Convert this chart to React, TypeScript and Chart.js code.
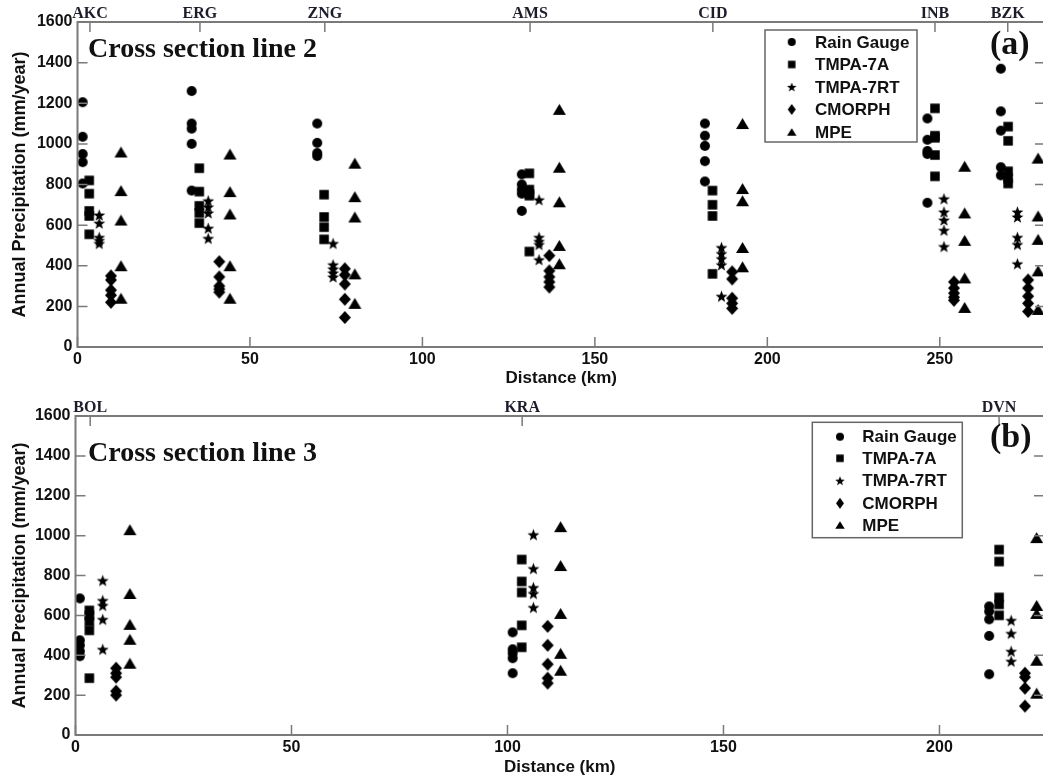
import React, { useEffect, useRef } from 'react';
import { Chart, registerables } from 'chart.js';

Chart.register(...registerables);

// ---------------- shared ----------------
const seriesLabels = ['Rain Gauge', 'TMPA-7A', 'TMPA-7RT', 'CMORPH', 'MPE'];
const yTickValues = [0, 200, 400, 600, 800, 1000, 1200, 1400, 1600];

// ---------------- cross section line 2 (panel a) ----------------
const line2Stations = ['AKC', 'ERG', 'ZNG', 'AMS', 'CID', 'INB', 'BZK'];
const line2StationKm = [3.6, 35.5, 71.7, 131.2, 184.2, 248.6, 269.7];
const line2XTicks = [0, 50, 100, 150, 200, 250];

const line2GaugeKm = [1.5, 33.1, 69.5, 128.8, 181.9, 246.4, 267.7];
const line2Gauge = [
  [1205, 1035, 950, 910, 805],
  [1260, 1100, 1075, 1000, 770],
  [1100, 1005, 955, 940],
  [850, 800, 775, 755, 670],
  [1100, 1040, 990, 915, 815],
  [1125, 1020, 965, 950, 710],
  [1370, 1160, 1065, 885, 845],
];
const line2Tmpa7aKm = [3.4, 35.3, 71.5, 131.0, 184.1, 248.6, 269.8];
const line2Tmpa7a = [
  [820, 755, 670, 645, 555],
  [880, 765, 695, 660, 610],
  [750, 640, 590, 530],
  [855, 775, 755, 745, 470],
  [770, 700, 645, 360],
  [1175, 1040, 1030, 945, 840],
  [1085, 1015, 865, 830, 805],
];
const line2Tmpa7rtKm = [6.3, 37.9, 74.1, 133.8, 186.7, 251.2, 272.5];
const line2Tmpa7rt = [
  [650, 610, 540, 525, 510],
  [720, 690, 660, 585, 535],
  [510, 405, 385, 365, 345],
  [725, 540, 520, 505, 430],
  [490, 460, 435, 405, 250],
  [730, 665, 625, 575, 495],
  [665, 640, 540, 505, 410],
];
const line2CmorphKm = [9.7, 41.1, 77.5, 136.8, 189.8, 254.1, 275.6];
const line2Cmorph = [
  [350, 330, 280, 255, 220],
  [420, 345, 300, 285, 270],
  [385, 355, 310, 235, 145],
  [450, 375, 345, 320, 295],
  [370, 335, 240, 215, 190],
  [320, 290, 265, 245, 230],
  [330, 290, 250, 215, 175],
];
const line2MpeKm = [12.6, 44.2, 80.4, 139.7, 192.8, 257.2, 278.5];
const line2Mpe = [
  [960, 770, 625, 400, 240],
  [950, 765, 655, 400, 240],
  [905, 740, 640, 360, 215],
  [1170, 885, 715, 500, 410],
  [1100, 780, 720, 490, 395],
  [890, 660, 525, 340, 195],
  [930, 645, 530, 375, 185],
];

// ---------------- cross section line 3 (panel b) ----------------
const line3Stations = ['BOL', 'KRA', 'DVN'];
const line3StationKm = [3.4, 103.4, 213.8];
const line3XTicks = [0, 50, 100, 150, 200];

const line3GaugeKm = [1.0, 101.2, 211.5];
const line3Gauge = [
  [685, 475, 450, 420, 395],
  [515, 430, 410, 385, 310],
  [645, 620, 580, 497, 305],
];
const line3Tmpa7aKm = [3.2, 103.3, 213.8];
const line3Tmpa7a = [
  [625, 600, 570, 525, 285],
  [880, 770, 715, 550, 440],
  [930, 870, 690, 655, 600],
];
const line3Tmpa7rtKm = [6.3, 106.0, 216.6];
const line3Tmpa7rt = [
  [775, 675, 650, 580, 430],
  [1005, 835, 740, 710, 640],
  [575, 510, 420, 370],
];
const line3CmorphKm = [9.4, 109.3, 219.8];
const line3Cmorph = [
  [335, 310, 290, 220, 200],
  [545, 450, 355, 285, 260],
  [310, 290, 235, 145],
];
const line3MpeKm = [12.6, 112.3, 222.5];
const line3Mpe = [
  [1030, 710, 555, 480, 360],
  [1045, 850, 610, 410, 325],
  [990, 650, 610, 375, 210],
];

// ---------------- markers ----------------
type Shape = 'circle' | 'square' | 'star' | 'diamond' | 'triangle';
const seriesShapes: Shape[] = ['circle', 'square', 'star', 'diamond', 'triangle'];
const dataSizes: Record<Shape, [number, number]> = {
  circle: [10, 10],
  square: [9.5, 9.5],
  star: [12.5, 12],
  diamond: [12, 13],
  triangle: [13, 11],
};
const legendSizes: Record<Shape, [number, number]> = {
  circle: [8, 8],
  square: [7.5, 7.5],
  star: [10, 9.5],
  diamond: [8, 11],
  triangle: [9.5, 7.5],
};

function makeMarker(shape: Shape, w: number, h: number): HTMLCanvasElement {
  const c = document.createElement('canvas');
  const W = Math.ceil(w) + 2;
  const H = Math.ceil(h) + 2;
  c.width = W;
  c.height = H;
  const ctx = c.getContext('2d')!;
  ctx.fillStyle = '#000';
  const cx = W / 2;
  const cy = H / 2;
  ctx.beginPath();
  if (shape === 'circle') {
    ctx.ellipse(cx, cy, w / 2, h / 2, 0, 0, Math.PI * 2);
  } else if (shape === 'square') {
    ctx.rect(cx - w / 2, cy - h / 2, w, h);
  } else if (shape === 'diamond') {
    ctx.moveTo(cx, cy - h / 2);
    ctx.lineTo(cx + w / 2, cy);
    ctx.lineTo(cx, cy + h / 2);
    ctx.lineTo(cx - w / 2, cy);
  } else if (shape === 'triangle') {
    ctx.moveTo(cx, cy - h / 2);
    ctx.lineTo(cx + w / 2, cy + h / 2);
    ctx.lineTo(cx - w / 2, cy + h / 2);
  } else {
    const R = w / 2;
    const r = R * 0.42;
    const oy = cy + (R - R * 0.809) / 2;
    for (let i = 0; i < 10; i++) {
      const ang = -Math.PI / 2 + (i * Math.PI) / 5;
      const rad = i % 2 === 0 ? R : r;
      const px = cx + Math.cos(ang) * rad;
      const py = oy + Math.sin(ang) * rad;
      if (i === 0) ctx.moveTo(px, py);
      else ctx.lineTo(px, py);
    }
  }
  ctx.closePath();
  ctx.fill();
  return c;
}

const SANS = '"Liberation Sans", Arial, sans-serif';
const SERIF = '"Liberation Serif", "Times New Roman", serif';

interface PanelSpec {
  stations: string[];
  stationKm: number[];
  kms: number[][];
  vals: number[][][];
  xTicks: number[];
  xMax: number;
  offsetTop: number;
  canvasW: number;
  canvasH: number;
  padTop: number;
  padRight: number;
  yAxisW: number;
  xAxisH: number;
  xTitlePadBottom: number;
  title: string;
  titlePos: [number, number];
  tag: string;
  tagPos: [number, number];
  legendBox: [number, number, number, number];
  legendMarkerX: number;
  legendTextX: number;
  legendRows: number[];
}

const panelA: PanelSpec = {
  stations: line2Stations,
  stationKm: line2StationKm,
  kms: [line2GaugeKm, line2Tmpa7aKm, line2Tmpa7rtKm, line2CmorphKm, line2MpeKm],
  vals: [line2Gauge, line2Tmpa7a, line2Tmpa7rt, line2Cmorph, line2Mpe],
  xTicks: line2XTicks,
  xMax: 280.5,
  offsetTop: 0,
  canvasW: 1060,
  canvasH: 390,
  padTop: 22,
  padRight: 15,
  yAxisW: 77.5,
  xAxisH: 43,
  xTitlePadBottom: 1,
  title: 'Cross section line 2',
  titlePos: [88, 57],
  tag: '(a)',
  tagPos: [990, 54],
  legendBox: [765, 30, 152, 112],
  legendMarkerX: 791.7,
  legendTextX: 815,
  legendRows: [42, 64.5, 87, 109.5, 132],
};

const panelB: PanelSpec = {
  stations: line3Stations,
  stationKm: line3StationKm,
  kms: [line3GaugeKm, line3Tmpa7aKm, line3Tmpa7rtKm, line3CmorphKm, line3MpeKm],
  vals: [line3Gauge, line3Tmpa7a, line3Tmpa7rt, line3Cmorph, line3Mpe],
  xTicks: line3XTicks,
  xMax: 224.2,
  offsetTop: 390,
  canvasW: 1060,
  canvasH: 390,
  padTop: 26,
  padRight: 16,
  yAxisW: 75.5,
  xAxisH: 45,
  xTitlePadBottom: 2,
  title: 'Cross section line 3',
  titlePos: [88, 70.7],
  tag: '(b)',
  tagPos: [990, 57],
  legendBox: [812.3, 32.3, 150, 115.4],
  legendMarkerX: 840,
  legendTextX: 862.3,
  legendRows: [46.7, 68.3, 90.7, 113.3, 135],
};

function buildConfig(spec: PanelSpec): any {
  const dataMarkers = seriesShapes.map((s) => makeMarker(s, dataSizes[s][0], dataSizes[s][1]));
  const legendMarkers = seriesShapes.map((s) => makeMarker(s, legendSizes[s][0], legendSizes[s][1]));

  const datasets = seriesLabels.map((label, s) => ({
    label,
    data: spec.kms[s].flatMap((km, i) => spec.vals[s][i].map((v) => ({ x: km, y: v }))),
    pointStyle: dataMarkers[s],
    pointRadius: 6,
    showLine: false,
    backgroundColor: '#000',
    borderColor: '#000',
    borderWidth: 0,
  }));

  const decor = {
    id: 'decor',
    afterDatasetsDraw(chart: any) {
      const { ctx, chartArea: a, scales } = chart;
      const xs = scales.x;
      const ys = scales.y;
      ctx.save();
      // frame
      ctx.strokeStyle = '#7a7a7a';
      ctx.lineWidth = 2;
      ctx.strokeRect(a.left, a.top, a.right - a.left, a.bottom - a.top);
      // inward ticks
      ctx.lineWidth = 1.5;
      ctx.beginPath();
      for (const v of yTickValues) {
        const py = ys.getPixelForValue(v);
        ctx.moveTo(a.left, py);
        ctx.lineTo(a.left + 10, py);
        ctx.moveTo(a.right, py);
        ctx.lineTo(a.right - 10, py);
      }
      for (const v of spec.xTicks) {
        const px = xs.getPixelForValue(v);
        ctx.moveTo(px, a.bottom);
        ctx.lineTo(px, a.bottom - 10);
      }
      for (const v of spec.stationKm) {
        const px = xs.getPixelForValue(v);
        ctx.moveTo(px, a.top);
        ctx.lineTo(px, a.top + 10);
      }
      ctx.stroke();

      // station labels (top axis)
      ctx.fillStyle = '#1c1c2a';
      ctx.font = `bold 16px ${SERIF}`;
      ctx.textAlign = 'center';
      ctx.textBaseline = 'alphabetic';
      spec.stations.forEach((name, i) => {
        ctx.fillText(name, xs.getPixelForValue(spec.stationKm[i]), a.top - 4);
      });

      // panel title and tag
      ctx.fillStyle = '#111';
      ctx.textAlign = 'left';
      ctx.font = `bold 28px ${SERIF}`;
      ctx.fillText(spec.title, spec.titlePos[0], spec.titlePos[1]);
      ctx.font = `bold 34px ${SERIF}`;
      ctx.fillText(spec.tag, spec.tagPos[0], spec.tagPos[1]);

      // legend
      const [bx, by, bw, bh] = spec.legendBox;
      ctx.fillStyle = '#fff';
      ctx.fillRect(bx, by, bw, bh);
      ctx.strokeStyle = '#666';
      ctx.lineWidth = 1.5;
      ctx.strokeRect(bx, by, bw, bh);
      ctx.font = `bold 17px ${SANS}`;
      ctx.textBaseline = 'middle';
      ctx.fillStyle = '#111';
      seriesLabels.forEach((label, s) => {
        const m = legendMarkers[s];
        const ry = spec.legendRows[s];
        ctx.drawImage(m, spec.legendMarkerX - m.width / 2, ry - m.height / 2);
        ctx.fillText(label, spec.legendTextX, ry + 1);
      });
      ctx.restore();
    },
  };

  const tickFont = { family: SANS, size: 16, weight: 'bold' as const };
  const xTitleFont = { family: SANS, size: 17, weight: 'bold' as const };
  const yTitleFont = { family: SANS, size: 18, weight: 'bold' as const };

  return {
    type: 'scatter',
    data: { datasets },
    options: {
      responsive: false,
      animation: false,
      events: [],
      layout: { padding: { top: spec.padTop, right: spec.padRight, left: 0, bottom: 0 } },
      plugins: {
        legend: { display: false },
        tooltip: { enabled: false },
        title: { display: false },
      },
      scales: {
        x: {
          type: 'linear',
          position: 'bottom',
          min: 0,
          max: spec.xMax,
          afterBuildTicks: (s: any) => {
            s.ticks = spec.xTicks.map((v) => ({ value: v }));
          },
          afterFit: (s: any) => {
            s.height = spec.xAxisH;
          },
          grid: { display: false, drawTicks: false },
          border: { display: false },
          ticks: {
            font: tickFont,
            color: '#111',
            padding: 3,
            maxRotation: 0,
            autoSkip: false,
            callback: (v: any) => String(v),
          },
          title: {
            display: true,
            text: 'Distance (km)',
            font: xTitleFont,
            color: '#111',
            padding: { top: 0, bottom: spec.xTitlePadBottom },
          },
        },
        y: {
          type: 'linear',
          position: 'left',
          min: 0,
          max: 1600,
          afterBuildTicks: (s: any) => {
            s.ticks = yTickValues.map((v) => ({ value: v }));
          },
          afterFit: (s: any) => {
            s.width = spec.yAxisW;
          },
          grid: { display: false, drawTicks: false },
          border: { display: false },
          ticks: {
            font: tickFont,
            color: '#111',
            padding: 5,
            autoSkip: false,
            callback: (v: any) => String(v),
          },
          title: {
            display: true,
            text: 'Annual Precipitation (mm/year)',
            font: yTitleFont,
            color: '#111',
            padding: { top: 9, bottom: 0 },
          },
        },
      },
    },
    plugins: [decor],
  };
}

function Panel({ spec }: { spec: PanelSpec }) {
  const ref = useRef<HTMLCanvasElement>(null);
  useEffect(() => {
    const chart = new Chart(ref.current!, buildConfig(spec));
    return () => chart.destroy();
  }, [spec]);
  return (
    <canvas
      ref={ref}
      width={spec.canvasW}
      height={spec.canvasH}
      style={{
        position: 'absolute',
        left: 0,
        top: spec.offsetTop,
        width: spec.canvasW,
        height: spec.canvasH,
        display: 'block',
      }}
    />
  );
}

export default function App() {
  return (
    <div
      style={{
        position: 'absolute',
        left: 0,
        top: 0,
        width: 1043,
        height: 780,
        overflow: 'hidden',
        background: '#fff',
      }}
    >
      <Panel spec={panelA} />
      <Panel spec={panelB} />
    </div>
  );
}
